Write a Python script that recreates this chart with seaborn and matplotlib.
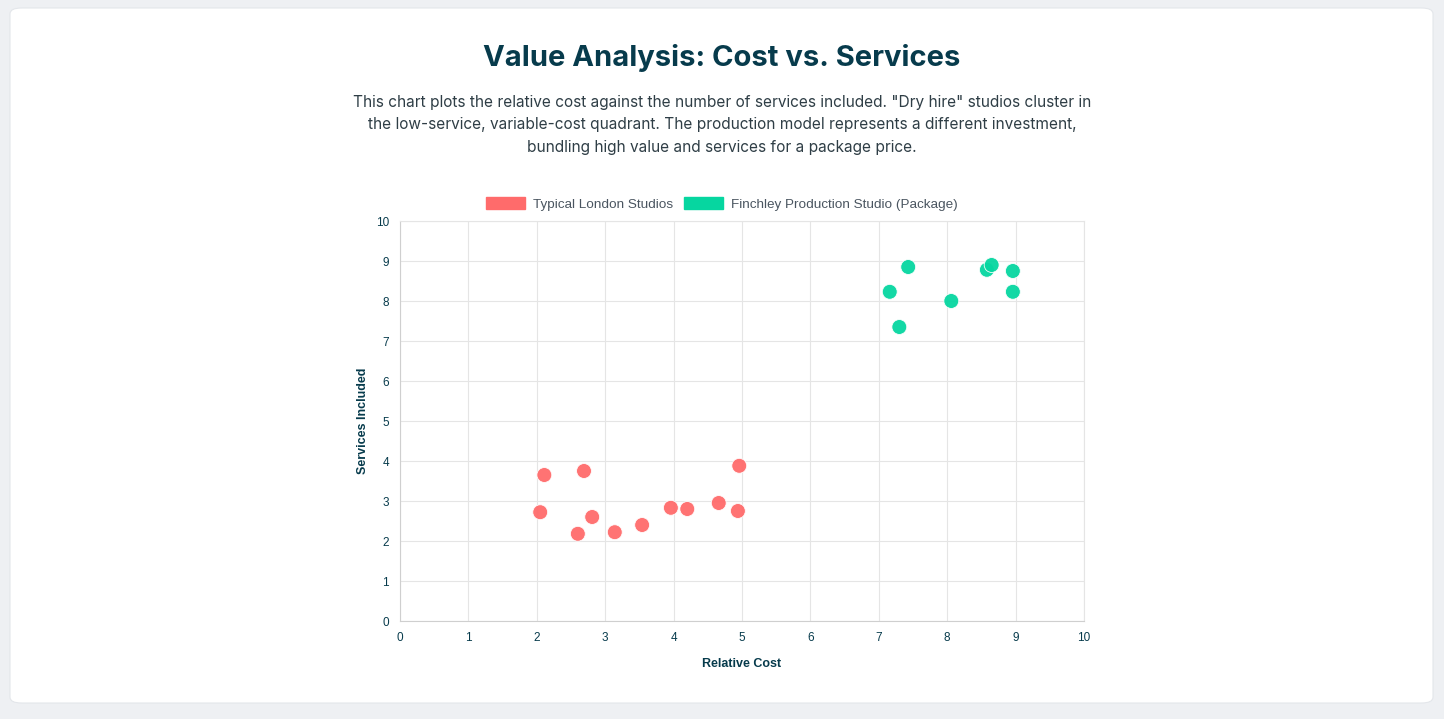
import pandas as pd
import matplotlib.pyplot as plt
import seaborn as sns
from matplotlib.patches import FancyBboxPatch, Patch

# Typical London studios (relative cost, services included)
london_cost = [2.05, 2.11, 2.69, 2.60, 2.81, 3.14, 3.54, 3.96, 4.20, 4.66, 4.94, 4.96]
london_services = [2.72, 3.65, 3.75, 2.18, 2.60, 2.22, 2.40, 2.83, 2.80, 2.95, 2.75, 3.88]

# Finchley production studio package
finchley_cost = [7.16, 7.30, 7.43, 8.06, 8.58, 8.65, 8.96, 8.96]
finchley_services = [8.23, 7.35, 8.85, 8.00, 8.78, 8.90, 8.75, 8.23]

series_names = ["Typical London Studios", "Finchley Production Studio (Package)"]
colors = ["#FF6B6B", "#06D6A0"]

TEXT_DARK = "#073B4C"

df = pd.concat([
    pd.DataFrame({"cost": london_cost, "services": london_services, "group": series_names[0]}),
    pd.DataFrame({"cost": finchley_cost, "services": finchley_services, "group": series_names[1]}),
])

sns.set_style("white")
plt.rcParams['font.family'] = ['Liberation Sans', 'DejaVu Sans']

fig = plt.figure(figsize=(14.44, 7.19), dpi=100)
fig.patch.set_facecolor("#EEF0F3")

# white card behind everything
card = FancyBboxPatch((10 / 1444, 1 - 703 / 719), 1423 / 1444, 695 / 719,
                      boxstyle="round,pad=0,rounding_size=0.008",
                      transform=fig.transFigure, facecolor="white",
                      edgecolor="#E3E6EA", linewidth=0.8, zorder=-10)
fig.patches.append(card)

fig.text(0.5, 1 - 58 / 719, "Value Analysis: Cost vs. Services", ha="center", va="center",
         fontsize=21, fontweight="bold", color=TEXT_DARK, family=["Inter", "DejaVu Sans"])
subtitle = ('This chart plots the relative cost against the number of services included. "Dry hire" studios cluster in\n'
            'the low-service, variable-cost quadrant. The production model represents a different investment,\n'
            'bundling high value and services for a package price.')
fig.text(0.5, 1 - 125 / 719, subtitle, ha="center", va="center", fontsize=11.1,
         color="#2F3E46", linespacing=1.6, family=["Inter", "DejaVu Sans"])

ax = fig.add_axes([400 / 1444, 1 - 621 / 719, 684 / 1444, 400 / 719])
ax.set_zorder(2)
sns.scatterplot(data=df, x="cost", y="services", hue="group", palette=colors,
                s=115, edgecolor="white", linewidth=0.6, alpha=0.95,
                legend=False, ax=ax, zorder=3)

ax.set_xlim(0, 10)
ax.set_ylim(0, 10)
ax.set_xticks(range(0, 11))
ax.set_yticks(range(0, 11))
ax.grid(True, color="#E5E5E5", linewidth=0.8)
ax.set_axisbelow(True)
for side in ["top", "right"]:
    ax.spines[side].set_color("#E5E5E5")
for side in ["left", "bottom"]:
    ax.spines[side].set_color("#CFCFCF")
ax.tick_params(axis="both", labelsize=8.5, colors=TEXT_DARK, length=5, color="#E5E5E5", pad=3)
ax.set_xlabel("Relative Cost", fontsize=9, fontweight="bold", color=TEXT_DARK, labelpad=10)
ax.set_ylabel("Services Included", fontsize=9, fontweight="bold", color=TEXT_DARK, labelpad=5)

handles = [Patch(facecolor=c, edgecolor=c) for c in colors]
fig.legend(handles, series_names, loc="center", bbox_to_anchor=(0.5, 1 - 204 / 719),
           ncol=2, frameon=False, fontsize=9.7, handlelength=2.9, handleheight=1.0,
           columnspacing=0.8, handletextpad=0.6, labelcolor="#4A5560")

fig.savefig("out.png", dpi=100, facecolor=fig.get_facecolor())
